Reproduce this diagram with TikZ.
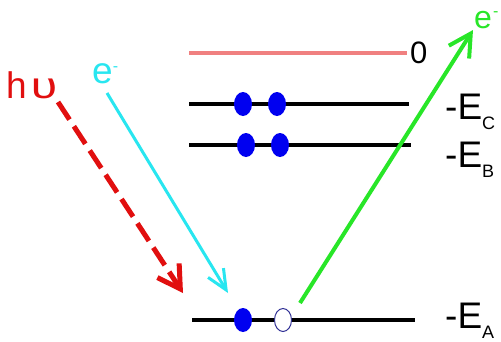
\documentclass[tikz,border=0pt]{standalone}
\usepackage{fontspec}
\setmainfont{Liberation Sans}
\usetikzlibrary{arrows.meta,shapes.geometric}
\definecolor{levelpink}{RGB}{240,128,128}
\definecolor{dotblue}{RGB}{0,0,240}
\definecolor{holeblue}{RGB}{50,50,150}
\definecolor{photred}{RGB}{225,15,15}
\definecolor{elcyan}{RGB}{40,230,240}
\definecolor{elgreen}{RGB}{40,230,40}
\begin{document}
\begin{tikzpicture}[x=1pt,y=-1pt,
  level/.style={line width=4pt},
  dot/.style={ellipse,fill=dotblue,minimum width=18pt,minimum height=24pt,inner sep=0pt},
  hole/.style={ellipse,draw=holeblue,fill=white,line width=1pt,minimum width=17pt,minimum height=23pt,inner sep=0pt},
  lbl/.style={anchor=base west,inner sep=0pt,font=\fontsize{37}{37}\selectfont},
  small/.style={font=\fontsize{31}{31}\selectfont}
]
\useasboundingbox[fill=white] (0,0) rectangle (501,341);

% energy levels
\coordinate (L0a) at (189,53);  \coordinate (L0b) at (407,53);
\coordinate (LCa) at (189,104); \coordinate (LCb) at (409,104);
\coordinate (LBa) at (189,145); \coordinate (LBb) at (411,145);
\coordinate (LAa) at (192,320); \coordinate (LAb) at (415,320);
\draw[level,levelpink] (L0a) -- (L0b);
\draw[level] (LCa) -- (LCb);
\draw[level] (LBa) -- (LBb);
\draw[level] (LAa) -- (LAb);

% electrons
\node[dot] (c1) at (243,104) {};
\node[dot] (c2) at (277,104) {};
\node[dot] (b1) at (246,145) {};
\node[dot] (b2) at (280,145) {};
\node[dot] (a1) at (243,320) {};
\node[hole] (a2) at (283,320) {};

% level labels
\node[lbl,small] (zero) at (410,63) {0};
\node[lbl] (EC) at (445,119) {-E\raisebox{-10pt}{\fontsize{18}{18}\selectfont C}};
\node[lbl] (EB) at (445,167) {-E\raisebox{-10pt}{\fontsize{18}{18}\selectfont B}};
\node[lbl] (EA) at (445,328) {-E\raisebox{-10pt}{\fontsize{18}{18}\selectfont A}};

% particle labels
\node[lbl,text=photred] (hv) at (6,98) {h\kern4pt\scalebox{1.3}[1]{υ}};
\node[lbl,text=elcyan] (ein) at (92,83) {e\raisebox{12pt}{\fontsize{16}{16}\selectfont -}};
\node[lbl,text=elgreen,font=\fontsize{32}{32}\selectfont] (eout) at (474,28) {e\kern1pt\raisebox{12pt}{\fontsize{16}{16}\selectfont -}};

% arrows
\coordinate (rs) at (58,102);  \coordinate (re) at (183,293);
\coordinate (cs) at (107,93);  \coordinate (ce) at (228,293);
\coordinate (gs) at (300,303); \coordinate (ge) at (473,30);
\draw[photred,line width=5pt,dash pattern=on 21pt off 8pt,
      -{Straight Barb[length=22pt,width=26pt]}] (rs) -- (re);
\draw[elcyan,line width=3pt,
      -{Straight Barb[length=20pt,width=18pt]}] (cs) -- (ce);
\draw[elgreen,line width=4pt,
      -{Straight Barb[length=22pt,width=24pt]}] (gs) -- (ge);
\end{tikzpicture}
\end{document}
